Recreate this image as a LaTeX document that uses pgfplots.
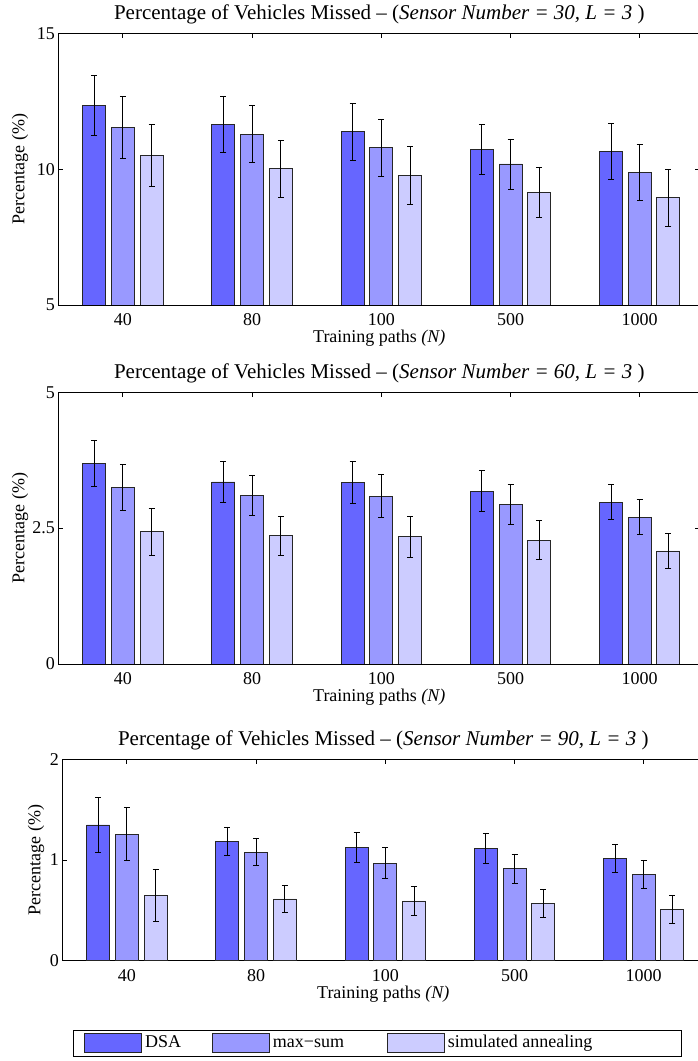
\documentclass[border=0pt]{standalone}
\usepackage{fontspec}
\setmainfont{Liberation Serif}
\usepackage{pgfplots}
\pgfplotsset{compat=1.18}
\definecolor{cDSA}{RGB}{102,102,255}
\definecolor{cMS}{RGB}{153,153,255}
\definecolor{cSA}{RGB}{204,204,255}
\pgfplotsset{
 mybars/.style={
  scale only axis, width=642pt, anchor=south west,
  xmin=-0.5, xmax=4.469,
  xtick={0,1,2,3,4}, xticklabels={40,80,100,500,1000},
  ybar=5.7pt, bar width=23pt,
  tick align=inside, major tick length=5pt,
  axis line style={line width=0.9pt},
  every tick/.style={black, line width=0.9pt},
  font=\fontsize{18}{21.6}\selectfont,
  /pgf/number format/assume math mode=true,
  x tick label style={anchor=base, yshift=-21pt},
  xlabel={Training paths \textit{(N)}},
  ylabel={Percentage (\%)},
  title style={at={(axis description cs:0.5,1)}, anchor=base, yshift=7.5pt, font=\fontsize{21}{25}\selectfont},
  error bars/y dir=both, error bars/y explicit,
  error bars/error bar style={line width=0.9pt, black},
  error bars/error mark options={rotate=90, mark size=3pt, line width=0.9pt, black},
  every axis plot/.append style={draw=black!85, line width=0.9pt},
 },
}
\begin{document}
\begin{tikzpicture}
\useasboundingbox (0,0) rectangle (698pt,1061pt);
% ---------- chart 1
\begin{axis}[mybars, at={(58.3pt,756pt)}, height=271.7pt,
  ymin=5, ymax=15, ytick={5,10,15},
  title={Percentage of Vehicles Missed – (\textit{Sensor Number = 30, L = 3} )},
  xlabel style={at={(axis description cs:0.5,-0.139)}, anchor=base},
  ylabel style={at={(axis description cs:-0.0597,0.5)}, anchor=center}]
\addplot[fill=cDSA] coordinates {(0,12.34) +- (0,1.10) (1,11.64) +- (0,1.03) (2,11.38) +- (0,1.05) (3,10.72) +- (0,0.92) (4,10.65) +- (0,1.04)};
\addplot[fill=cMS] coordinates {(0,11.53) +- (0,1.13) (1,11.28) +- (0,1.05) (2,10.78) +- (0,1.05) (3,10.19) +- (0,0.92) (4,9.87) +- (0,1.04)};
\addplot[fill=cSA] coordinates {(0,10.50) +- (0,1.13) (1,10.01) +- (0,1.06) (2,9.77) +- (0,1.06) (3,9.15) +- (0,0.93) (4,8.95) +- (0,1.05)};
\end{axis}
% ---------- chart 2
\begin{axis}[mybars, at={(58.3pt,397pt)}, height=271.7pt,
  ymin=0, ymax=5, ytick={0,2.5,5},
  title={Percentage of Vehicles Missed – (\textit{Sensor Number = 60, L = 3} )},
  xlabel style={at={(axis description cs:0.5,-0.139)}, anchor=base},
  ylabel style={at={(axis description cs:-0.0597,0.5)}, anchor=center}]
\addplot[fill=cDSA] coordinates {(0,3.69) +- (0,0.43) (1,3.35) +- (0,0.37) (2,3.34) +- (0,0.39) (3,3.18) +- (0,0.375) (4,2.98) +- (0,0.325)};
\addplot[fill=cMS] coordinates {(0,3.25) +- (0,0.42) (1,3.10) +- (0,0.37) (2,3.09) +- (0,0.39) (3,2.94) +- (0,0.365) (4,2.70) +- (0,0.32)};
\addplot[fill=cSA] coordinates {(0,2.43) +- (0,0.43) (1,2.36) +- (0,0.36) (2,2.34) +- (0,0.38) (3,2.28) +- (0,0.365) (4,2.08) +- (0,0.315)};
\end{axis}
% ---------- chart 3
\begin{axis}[mybars, at={(62.3pt,100.3pt)}, height=201.4pt,
  ymin=0, ymax=2, ytick={0,1,2},
  title={Percentage of Vehicles Missed – (\textit{Sensor Number = 90, L = 3} )},
  xlabel style={at={(axis description cs:0.5,-0.189)}, anchor=base},
  ylabel style={at={(axis description cs:-0.041,0.5)}, anchor=center},
  legend columns=3,
  legend image code/.code={\draw[#1] (0pt,-9.3pt) rectangle (57pt,9.3pt);},
  legend style={at={(axis description cs:0.01713,-0.3441)}, anchor=north west,
    draw=black, line width=0.9pt, inner xsep=10.4pt, inner ysep=3pt,
    nodes={inner sep=2pt, text height=0.9em, text depth=0.1em}, font=\fontsize{18}{21.6}\selectfont},
  legend cell align=left]
\addplot[fill=cDSA] coordinates {(0,1.348) +- (0,0.27) (1,1.188) +- (0,0.14) (2,1.123) +- (0,0.15) (3,1.116) +- (0,0.146) (4,1.017) +- (0,0.14)};
\addlegendentry{\makebox[66pt][l]{\hspace{1pt}DSA}}
\addplot[fill=cMS] coordinates {(0,1.258) +- (0,0.26) (1,1.079) +- (0,0.135) (2,0.970) +- (0,0.15) (3,0.914) +- (0,0.146) (4,0.858) +- (0,0.142)};
\addlegendentry{\makebox[113pt][l]{\hspace{1pt}max−sum}}
\addplot[fill=cSA] coordinates {(0,0.649) +- (0,0.255) (1,0.613) +- (0,0.133) (2,0.593) +- (0,0.146) (3,0.570) +- (0,0.138) (4,0.508) +- (0,0.136)};
\addlegendentry{\makebox[222pt][l]{\hspace{1pt}simulated annealing}}
\end{axis}
\end{tikzpicture}
\end{document}
